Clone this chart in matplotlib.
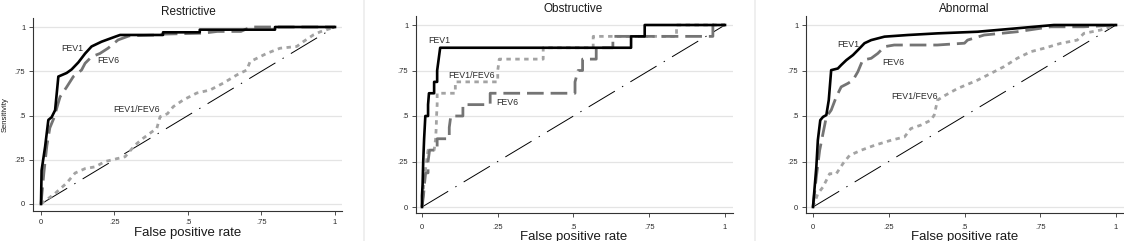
import matplotlib
matplotlib.use('Agg')
import matplotlib.pyplot as plt
from matplotlib.lines import Line2D

plt.rcParams['font.family'] = ['Liberation Sans', 'DejaVu Sans']
plt.rcParams['lines.scale_dashes'] = False

W, H = 1124, 241

# ---- data (false positive rate, sensitivity) ----
# Restrictive
r_fev1_x = [0, 0.002, 0.014, 0.025, 0.036, 0.048, 0.055, 0.059, 0.087, 0.104, 0.127, 0.15,
            0.172, 0.206, 0.252, 0.269, 0.415, 0.415, 0.54, 0.54, 0.796, 0.796, 1]
r_fev1_y = [0, 0.19, 0.324, 0.475, 0.49, 0.53, 0.65, 0.72, 0.74, 0.76, 0.80, 0.85,
            0.89, 0.917, 0.945, 0.955, 0.955, 0.97, 0.97, 0.985, 0.985, 1, 1]
r_fev6_x = [0, 0.01, 0.02, 0.03, 0.045, 0.055, 0.065, 0.087, 0.11, 0.138, 0.15, 0.172, 0.2,
            0.228, 0.262, 0.3, 0.4, 0.42, 0.55, 0.6, 0.68, 0.70, 0.72, 1]
r_fev6_y = [0, 0.18, 0.33, 0.43, 0.49, 0.55, 0.606, 0.66, 0.72, 0.757, 0.795, 0.832, 0.85,
            0.88, 0.927, 0.95, 0.955, 0.96, 0.965, 0.975, 0.975, 0.99, 1, 1]
r_ratio_x = [0, 0.048, 0.087, 0.116, 0.15, 0.184, 0.218, 0.286, 0.32, 0.348, 0.394, 0.405,
             0.43, 0.45, 0.484, 0.53, 0.575, 0.62, 0.666, 0.70, 0.711, 0.768, 0.813, 0.87,
             0.892, 0.926, 0.95, 1]
r_ratio_y = [0, 0.06, 0.118, 0.175, 0.2, 0.21, 0.24, 0.267, 0.333, 0.372, 0.428, 0.493,
             0.51, 0.55, 0.588, 0.627, 0.644, 0.683, 0.729, 0.757, 0.804, 0.851, 0.88, 0.89,
             0.917, 0.955, 0.973, 1]

# Obstructive (step curves)
o_fev1_x = [0, 0, 0.002, 0.004, 0.007, 0.011, 0.02, 0.02, 0.023, 0.04, 0.04, 0.05, 0.05,
            0.055, 0.06, 0.69, 0.69, 0.735, 0.735, 1]
o_fev1_y = [0, 0.0625, 0.125, 0.25, 0.375, 0.5, 0.5, 0.5625, 0.625, 0.625, 0.6875, 0.6875,
            0.75, 0.8125, 0.875, 0.875, 0.9375, 0.9375, 1, 1]
o_fev6_x = [0, 0.005, 0.008, 0.012, 0.02, 0.02, 0.025, 0.05, 0.05, 0.09, 0.09, 0.095, 0.135,
            0.135, 0.225, 0.225, 0.505, 0.505, 0.515, 0.53, 0.53, 0.575, 0.575, 0.63, 0.63,
            0.96, 0.96, 1]
o_fev6_y = [0, 0.0625, 0.125, 0.1875, 0.1875, 0.25, 0.3125, 0.3125, 0.375, 0.375, 0.4375,
            0.5, 0.5, 0.5625, 0.5625, 0.625, 0.625, 0.6875, 0.75, 0.75, 0.8125, 0.8125,
            0.875, 0.875, 0.9375, 0.9375, 1, 1]
o_ratio_x = [0, 0.003, 0.006, 0.01, 0.015, 0.02, 0.04, 0.045, 0.047, 0.048, 0.05, 0.05, 0.11,
             0.11, 0.25, 0.25, 0.255, 0.40, 0.40, 0.565, 0.565, 0.84, 0.84, 1]
o_ratio_y = [0, 0.0625, 0.125, 0.1875, 0.25, 0.3125, 0.3125, 0.375, 0.4375, 0.5, 0.5625,
             0.625, 0.625, 0.6875, 0.6875, 0.75, 0.8125, 0.8125, 0.875, 0.875, 0.9375,
             0.9375, 1, 1]

# Abnormal
a_fev1_x = [0, 0.011, 0.016, 0.024, 0.033, 0.044, 0.052, 0.06, 0.082, 0.093, 0.11, 0.132,
            0.148, 0.17, 0.192, 0.236, 0.313, 0.41, 0.543, 0.674, 0.795, 1]
a_fev1_y = [0, 0.22, 0.367, 0.477, 0.495, 0.505, 0.587, 0.752, 0.761, 0.78, 0.807, 0.835,
            0.862, 0.9, 0.917, 0.936, 0.945, 0.954, 0.963, 0.982, 1, 1]
a_fev6_x = [0, 0.011, 0.022, 0.033, 0.044, 0.06, 0.077, 0.093, 0.115, 0.132, 0.148, 0.164,
            0.192, 0.214, 0.236, 0.268, 0.41, 0.5, 0.51, 0.565, 0.674, 0.784, 0.894, 1]
a_fev6_y = [0, 0.165, 0.312, 0.404, 0.495, 0.532, 0.606, 0.66, 0.679, 0.697, 0.743, 0.807,
            0.817, 0.844, 0.881, 0.89, 0.89, 0.9, 0.917, 0.945, 0.963, 0.99, 0.99, 1]
a_ratio_x = [0, 0.016, 0.033, 0.055, 0.077, 0.099, 0.121, 0.159, 0.203, 0.258, 0.302, 0.323,
             0.356, 0.389, 0.40, 0.411, 0.428, 0.477, 0.543, 0.587, 0.63, 0.674, 0.718,
             0.762, 0.817, 0.872, 0.894, 0.948, 1]
a_ratio_y = [0, 0.073, 0.11, 0.183, 0.183, 0.239, 0.284, 0.312, 0.339, 0.367, 0.385, 0.431,
             0.45, 0.477, 0.505, 0.587, 0.606, 0.651, 0.697, 0.734, 0.771, 0.817, 0.853,
             0.872, 0.899, 0.917, 0.954, 0.972, 1]

titles = ['Restrictive', 'Obstructive', 'Abnormal']
curves = [
    (r_fev1_x, r_fev1_y, r_fev6_x, r_fev6_y, r_ratio_x, r_ratio_y),
    (o_fev1_x, o_fev1_y, o_fev6_x, o_fev6_y, o_ratio_x, o_ratio_y),
    (a_fev1_x, a_fev1_y, a_fev6_x, a_fev6_y, a_ratio_x, a_ratio_y),
]
# label positions (data coords): FEV1, FEV6, FEV1/FEV6
label_pos = [
    [(0.107, 0.88), (0.229, 0.81), (0.325, 0.532)],
    [(0.058, 0.914), (0.28, 0.572), (0.165, 0.725)],
    [(0.117, 0.894), (0.266, 0.793), (0.334, 0.606)],
]
tick_vals = [0, 0.25, 0.5, 0.75, 1]
tick_lbls = ['0', '.25', '.5', '.75', '1']

# pixel layout: spine left, right end, top, bottom spine, x0, x1, y0, y1
boxes = [
    (33, 342, 18, 211, 41, 335, 204, 27),
    (416, 733, 16, 213, 422, 725, 207, 25),
    (806, 1124, 16, 213, 813, 1116, 207, 25),
]
title_y = [12, 9, 9]
xlab_y = [233, 237, 237]
tick_pad = [3.5, 5.5, 5.5]

fig = plt.figure(figsize=(W / 100, H / 100), dpi=100)
fig.patch.set_facecolor('white')

for i in range(3):
    l, r, t, b, x0, x1, y0, y1 = boxes[i]
    ax = fig.add_axes([l / W, 1 - b / H, (r - l) / W, (b - t) / H])
    ux = x1 - x0
    uy = y0 - y1
    ax.set_xlim((l - x0) / ux, (r - x0) / ux)
    ax.set_ylim(-(b - y0) / uy, 1 + (y1 - t) / uy)

    f1x, f1y, f6x, f6y, rx, ry = curves[i]
    ax.plot([0, 1], [0, 1], color='black', lw=0.7, dashes=(22, 6, 1, 6), zorder=2)
    ax.plot(rx, ry, color='#a3a3a3', lw=2.0, dashes=(3.2, 3.2), zorder=3)
    ax.plot(f6x, f6y, color='#747474', lw=2.0, dashes=(12, 5), zorder=4)
    ax.plot(f1x, f1y, color='black', lw=1.9, zorder=5)

    names = ['FEV1', 'FEV6', 'FEV1/FEV6']
    for (px, py), nm in zip(label_pos[i], names):
        ax.text(px, py, nm, fontsize=6.3, ha='center', va='center', color='#2a2a2a', zorder=6)

    ax.set_xticks(tick_vals)
    ax.set_xticklabels(tick_lbls)
    ax.set_yticks(tick_vals)
    ax.set_yticklabels(tick_lbls)
    ax.tick_params(axis='both', labelsize=5.5, length=3, width=0.6, color='#333333',
                   labelcolor='#2a2a2a', direction='out')
    ax.tick_params(axis='x', pad=tick_pad[i] - 0.5)
    ax.tick_params(axis='y', pad=2.5)
    ax.grid(axis='y', color='#e4e4e4', lw=0.9, zorder=0)
    ax.set_axisbelow(True)
    for s in ['top', 'right']:
        ax.spines[s].set_visible(False)
    for s in ['left', 'bottom']:
        ax.spines[s].set_linewidth(0.8)
        ax.spines[s].set_color('#333333')

    cx = ((x0 + x1) / 2) / W
    fig.text(cx, 1 - title_y[i] / H, titles[i], fontsize=8.5, ha='center', va='center', color='#1a1a1a')
    fig.text(cx, 1 - xlab_y[i] / H, 'False positive rate', fontsize=9.5, ha='center', va='center',
             color='#1a1a1a')

fig.text(5 / W, 1 - 115 / H, 'Sensitivity', fontsize=5.5, rotation=90, ha='center', va='center',
         color='#1a1a1a')

# light panel separators
for sx in [364, 755]:
    fig.add_artist(Line2D([sx / W, sx / W], [0, 1], color='#ececec', lw=1.2))

fig.savefig('out.png', dpi=100, facecolor='white')
